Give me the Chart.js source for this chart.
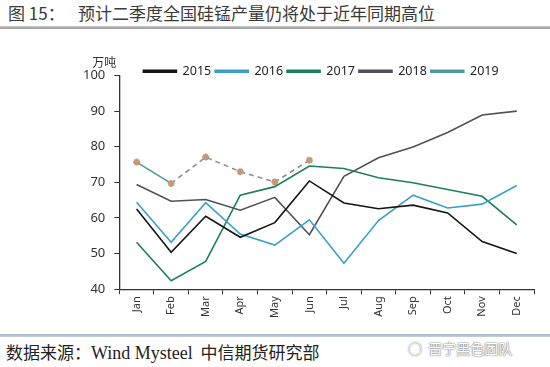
<!DOCTYPE html>
<html>
<head>
<meta charset="utf-8">
<script src="https://cdn.jsdelivr.net/npm/chart.js@4.4.1/dist/chart.umd.min.js"></script>
<style>
  html, body { margin:0; padding:0; background:#fff; width:550px; height:367px; overflow:hidden; font-family:"Noto Sans CJK SC","Noto Sans",sans-serif; }
  #head { position:absolute; left:0; top:0; width:550px; height:26px; font-size:17px; color:#3a3a3a; line-height:26px; }
  #head .num { position:absolute; left:8px; }
  #head .ttl { position:absolute; left:78px; }
  #rule1 { position:absolute; left:0; top:26px; width:550px; height:3px; background:linear-gradient(#c8c8c8,#9a9a9a); }
  #box { position:absolute; left:0; top:30px; width:550px; height:302px; }
  #rule2 { position:absolute; left:0; top:334px; width:550px; height:3px; background:linear-gradient(#a8b8c8,#c8d0d8); }
  #foot { position:absolute; left:6px; top:339px; font-size:17px; color:#222; }
  #foot .lat { font-family:"Liberation Serif","DejaVu Serif",serif; font-size:18px; }
  #mark { position:absolute; left:408px; top:338px; font-size:14px; color:#fff; text-shadow:0 0 2px #777, 0 0 1px #555; }
</style>
</head>
<body>
<div id="head"><span class="num">图 15：</span><span class="ttl">预计二季度全国硅锰产量仍将处于近年同期高位</span></div>
<div id="rule1"></div>
<div id="box"><canvas id="c"></canvas></div>
<div id="rule2"></div>
<div id="foot">数据来源：<span class="lat">Wind Mysteel</span>&nbsp; 中信期货研究部</div>
<div id="mark">◌ &nbsp;晋宁黑色团队</div>
<script>
const months = ['Jan','Feb','Mar','Apr','May','Jun','Jul','Aug','Sep','Oct','Nov','Dec'];
const y2015 = [62.5, 50.4, 60.5, 54.6, 58.7, 70.4, 64.2, 62.6, 63.6, 61.4, 53.4, 50.0];
const y2016 = [64.4, 53.2, 64.3, 55.5, 52.4, 59.5, 47.3, 59.3, 66.4, 62.8, 63.9, 69.1];
const y2017 = [53.2, 42.4, 47.8, 66.4, 68.8, 74.6, 73.9, 71.3, 69.9, 68.0, 66.1, 58.1];
const y2018 = [69.4, 64.7, 65.2, 62.2, 65.8, 55.3, 71.7, 76.9, 79.9, 84.0, 88.9, 90.0];
const y2019 = [75.7, 69.7, 77.1, 73.0, 70.1, 76.2, null, null, null, null, null, null];
const yTicks = [40, 50, 60, 70, 80, 90, 100];

// legend sits lower and a bit right in the source, nearly touching the plot top
const legendShift = {
  id: 'legendShift',
  afterLayout(chart) {
    const lg = chart.legend;
    lg.top += 12; lg.bottom += 12;
    lg.left += 17; lg.right += 17;
  }
};

const unitLabel = {
  id: 'unitLabel',
  afterDraw(chart) {
    const { ctx } = chart;
    const y = chart.scales.y;
    ctx.save();
    ctx.font = '12px "Noto Sans CJK SC", sans-serif';
    ctx.fillStyle = '#333';
    ctx.textAlign = 'center';
    ctx.textBaseline = 'bottom';
    ctx.fillText('万吨', y.right - 15, y.top - 7);
    ctx.restore();
  }
};

const line = (label, data, color, width) => ({
  label, data, borderColor: color, backgroundColor: color, borderWidth: width,
  pointRadius: 0, tension: 0, fill: false
});

new Chart(document.getElementById('c'), {
  type: 'line',
  data: {
    labels: months,
    datasets: [
      line('2015', y2015, '#151515', 1.6),
      line('2016', y2016, '#3a9fc9', 1.6),
      line('2017', y2017, '#1e7f5e', 1.6),
      line('2018', y2018, '#505058', 1.6),
      {
        label: '2019', data: y2019, borderColor: '#4a9aa0', backgroundColor: '#4a9aa0', borderWidth: 1.6,
        pointStyle: 'star', pointRadius: 3.5, pointBorderColor: '#c49a7a', pointBorderWidth: 2,
        segment: {
          borderColor: c => c.p0DataIndex === 0 ? '#4a9aa0' : '#8a8f92',
          borderDash: c => c.p0DataIndex === 0 ? undefined : [5, 4]
        },
        tension: 0, fill: false, spanGaps: false
      }
    ]
  },
  options: {
    responsive: true, maintainAspectRatio: false, animation: false,
    layout: { padding: { left: 74, right: 16, top: 19, bottom: 12 } },
    plugins: {
      legend: {
        position: 'top', align: 'center',
        labels: { boxWidth: 33, boxHeight: 2, color: '#222', font: { size: 12.5, family: 'Noto Sans' }, padding: 4 }
      },
      tooltip: { enabled: false }
    },
    scales: {
      x: {
        offset: true,
        grid: { display: true, drawOnChartArea: false, offset: true, color: '#333', tickLength: 5 },
        border: { color: '#333', width: 1.3 },
        ticks: { color: '#333', font: { size: 11, family: 'Noto Sans' }, minRotation: 90, maxRotation: 90, padding: 2 }
      },
      y: {
        min: 40, max: 100,
        afterBuildTicks: s => { s.ticks = yTicks.map(v => ({ value: v })); },
        grid: { display: true, drawOnChartArea: false, color: '#333', tickLength: 5 },
        border: { color: '#333', width: 1.3 },
        ticks: { color: '#333', font: { size: 13, family: 'Noto Sans' }, padding: 9 }
      }
    }
  },
  plugins: [legendShift, unitLabel]
});
</script>
</body>
</html>
